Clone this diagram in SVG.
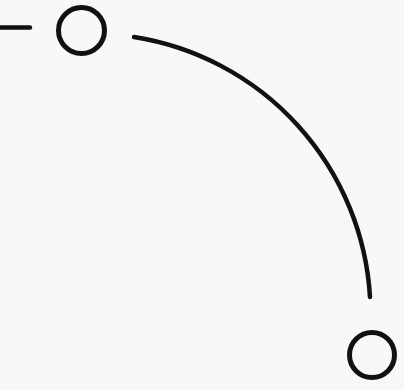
<svg xmlns="http://www.w3.org/2000/svg" width="404" height="390" viewBox="0 0 404 390">
  <style>
    .node { fill: none; stroke: #111; stroke-width: 5; }
    .edge { fill: none; stroke: #111; stroke-width: 4.5; stroke-linecap: round; }
  </style>
  <rect x="0" y="0" width="404" height="390" fill="#f8f8f8"/>
  <g id="connectors">
    <line class="edge" x1="-2" y1="27.5" x2="30" y2="27.5" stroke-linecap="butt"/>
    <path class="edge" d="M134,37 A280,280 0 0 1 370,297"/>
  </g>
  <g id="node1">
    <circle class="node" cx="81.5" cy="30.5" r="23"/>
  </g>
  <g id="node2">
    <circle class="node" cx="372" cy="355" r="22.5"/>
  </g>
</svg>
